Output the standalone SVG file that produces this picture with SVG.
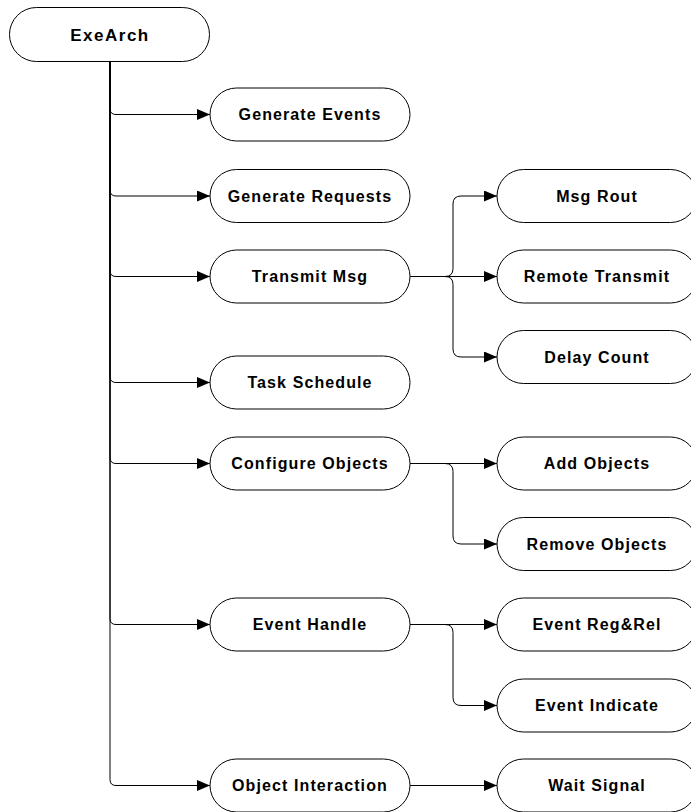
<svg xmlns="http://www.w3.org/2000/svg" width="691" height="812" viewBox="0 0 691 812">
  <style>
    .node rect { fill: #ffffff; stroke: #000000; stroke-width: 1; }
    .node text { font-family: "Liberation Sans", Arial, sans-serif; font-weight: bold; font-size: 16px; letter-spacing: 1.1px; text-anchor: middle; fill: #000000; }
    #root text { font-size: 17px; letter-spacing: 1.5px; }
    .edge { fill: none; stroke: #000000; stroke-width: 1; marker-end: url(#arrow); }
  </style>
  <defs>
    <marker id="arrow" markerWidth="13" markerHeight="11" refX="13" refY="5.5" orient="auto" markerUnits="userSpaceOnUse">
      <path d="M0,0 L13,5.5 L0,11 Z" fill="#000000"/>
    </marker>
  </defs>
  <rect width="691" height="812" fill="#ffffff"/>

  <!-- connectors -->
  <g id="connectors">
    <!-- trunk branches from the root -->
    <path class="edge" d="M110,62 V108.5 Q110,114.5 116,114.5 H210"/>
    <path class="edge" d="M110,62 V190 Q110,196 116,196 H210"/>
    <path class="edge" d="M110,62 V270.5 Q110,276.5 116,276.5 H210"/>
    <path class="edge" d="M110,62 V376.5 Q110,382.5 116,382.5 H210"/>
    <path class="edge" d="M110,62 V457.5 Q110,463.5 116,463.5 H210"/>
    <path class="edge" d="M110,62 V618.5 Q110,624.5 116,624.5 H210"/>
    <path class="edge" d="M110,62 V779.5 Q110,785.5 116,785.5 H210"/>
    <!-- Transmit Msg children -->
    <path class="edge" d="M410,276.5 H445 Q453,276.5 453,268.5 V204 Q453,196 461,196 H497"/>
    <path class="edge" d="M410,276.5 H497"/>
    <path class="edge" d="M410,276.5 H445 Q453,276.5 453,284.5 V349 Q453,357 461,357 H497"/>
    <!-- Configure Objects children -->
    <path class="edge" d="M410,463.5 H497"/>
    <path class="edge" d="M410,463.5 H445 Q453,463.5 453,471.5 V536 Q453,544 461,544 H497"/>
    <!-- Event Handle children -->
    <path class="edge" d="M410,624.5 H497"/>
    <path class="edge" d="M410,624.5 H445 Q453,624.5 453,632.5 V697.5 Q453,705.5 461,705.5 H497"/>
    <!-- Object Interaction child -->
    <path class="edge" d="M410,785.5 H497"/>
  </g>

  <!-- root -->
  <g id="root" class="node">
    <rect x="9.5" y="7.5" width="200" height="54" rx="27"/>
    <text x="110" y="40.5">ExeArch</text>
  </g>

  <!-- first level -->
  <g id="generate-events" class="node">
    <rect x="210" y="88" width="200" height="53" rx="26.5"/>
    <text x="310" y="120">Generate Events</text>
  </g>
  <g id="generate-requests" class="node">
    <rect x="210" y="169.5" width="200" height="53" rx="26.5"/>
    <text x="310" y="201.5">Generate Requests</text>
  </g>
  <g id="transmit-msg" class="node">
    <rect x="210" y="250" width="200" height="53" rx="26.5"/>
    <text x="310" y="282">Transmit Msg</text>
  </g>
  <g id="task-schedule" class="node">
    <rect x="210" y="356" width="200" height="53" rx="26.5"/>
    <text x="310" y="388">Task Schedule</text>
  </g>
  <g id="configure-objects" class="node">
    <rect x="210" y="437" width="200" height="53" rx="26.5"/>
    <text x="310" y="469">Configure Objects</text>
  </g>
  <g id="event-handle" class="node">
    <rect x="210" y="598" width="200" height="53" rx="26.5"/>
    <text x="310" y="630">Event Handle</text>
  </g>
  <g id="object-interaction" class="node">
    <rect x="210" y="759" width="200" height="53" rx="26.5"/>
    <text x="310" y="791">Object Interaction</text>
  </g>

  <!-- second level -->
  <g id="msg-rout" class="node">
    <rect x="497" y="169.5" width="200" height="53" rx="26.5"/>
    <text x="597" y="201.5">Msg Rout</text>
  </g>
  <g id="remote-transmit" class="node">
    <rect x="497" y="250" width="200" height="53" rx="26.5"/>
    <text x="597" y="282">Remote Transmit</text>
  </g>
  <g id="delay-count" class="node">
    <rect x="497" y="330.5" width="200" height="53" rx="26.5"/>
    <text x="597" y="362.5">Delay Count</text>
  </g>
  <g id="add-objects" class="node">
    <rect x="497" y="437" width="200" height="53" rx="26.5"/>
    <text x="597" y="469">Add Objects</text>
  </g>
  <g id="remove-objects" class="node">
    <rect x="497" y="517.5" width="200" height="53" rx="26.5"/>
    <text x="597" y="549.5">Remove Objects</text>
  </g>
  <g id="event-reg-rel" class="node">
    <rect x="497" y="598" width="200" height="53" rx="26.5"/>
    <text x="597" y="630">Event Reg&amp;Rel</text>
  </g>
  <g id="event-indicate" class="node">
    <rect x="497" y="679" width="200" height="53" rx="26.5"/>
    <text x="597" y="711">Event Indicate</text>
  </g>
  <g id="wait-signal" class="node">
    <rect x="497" y="759" width="200" height="53" rx="26.5"/>
    <text x="597" y="791">Wait Signal</text>
  </g>
</svg>
